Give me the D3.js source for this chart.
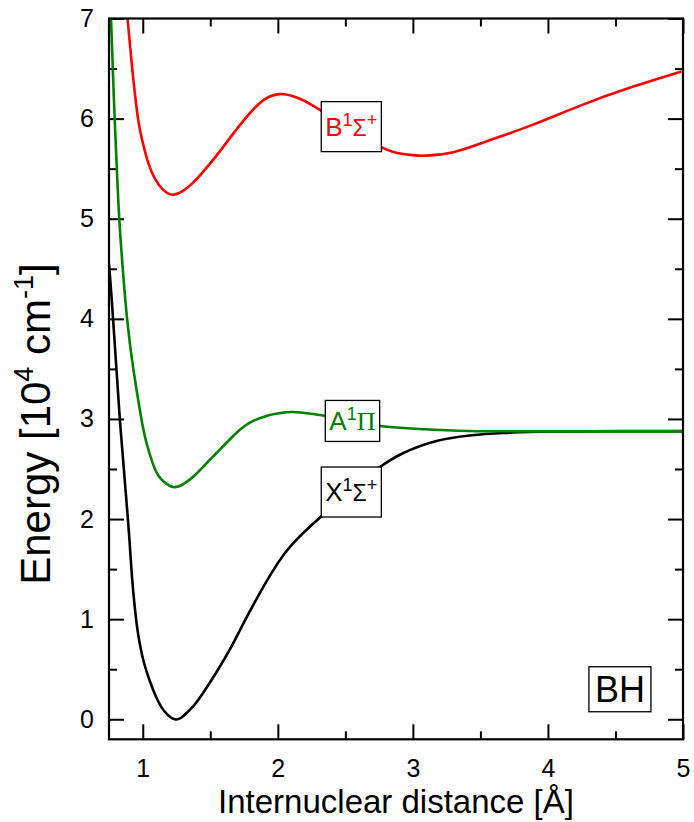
<!DOCTYPE html>
<html>
<head>
<meta charset="utf-8">
<script src="https://cdn.jsdelivr.net/npm/d3@7"></script>
<style>
  body { margin: 0; background: #fff; }
  text { font-family: "Liberation Sans", Arial, sans-serif; }
</style>
</head>
<body>
<svg width="694" height="822"></svg>
<script>
// potential curves of BH, energy in 10^4 cm-1 vs r in Angstrom
var xStateR = [0.75, 0.78, 0.83, 0.89, 0.916, 0.935, 0.955, 0.98, 1.01, 1.05, 1.10, 1.16, 1.237, 1.30, 1.38, 1.46, 1.55, 1.65, 1.75, 1.85, 1.953, 2.05, 2.15, 2.30, 2.45, 2.6, 2.756, 2.93, 3.175, 3.42, 3.67, 4.04, 4.5, 5.0];
var xStateE = [4.55, 4.0, 3.0, 2.0, 1.5, 1.2, 0.95, 0.74, 0.56, 0.39, 0.22, 0.08, 0.0, 0.033, 0.14, 0.29, 0.48, 0.71, 0.97, 1.22, 1.46, 1.655, 1.81, 2.0, 2.18, 2.36, 2.52, 2.66, 2.78, 2.835, 2.86, 2.875, 2.878, 2.878];

var aStateR = [0.765, 0.778, 0.792, 0.808, 0.826, 0.852, 0.884, 0.93, 0.99, 1.03, 1.09, 1.15, 1.225, 1.30, 1.38, 1.46, 1.546, 1.67, 1.79, 1.916, 2.0, 2.11, 2.26, 2.40, 2.55, 2.756, 3.05, 3.42, 3.92, 5.0];
var aStateE = [7.0, 6.5, 6.0, 5.5, 5.0, 4.5, 4.0, 3.5, 3.0, 2.75, 2.5, 2.38, 2.32, 2.35, 2.43, 2.54, 2.66, 2.83, 2.96, 3.03, 3.055, 3.07, 3.05, 3.02, 2.98, 2.93, 2.90, 2.88, 2.876, 2.876];

var bStateR = [0.887, 0.922, 0.965, 1.0, 1.04, 1.09, 1.15, 1.22, 1.30, 1.38, 1.46, 1.546, 1.67, 1.79, 1.90, 2.015, 2.14, 2.26, 2.40, 2.55, 2.70, 2.85, 3.0, 3.10, 3.30, 3.55, 3.87, 4.24, 4.61, 4.99];
var bStateE = [7.0, 6.5, 6.0, 5.76, 5.56, 5.40, 5.29, 5.24, 5.28, 5.37, 5.49, 5.63, 5.85, 6.05, 6.19, 6.245, 6.21, 6.13, 6.01, 5.88, 5.76, 5.67, 5.635, 5.63, 5.665, 5.775, 5.93, 6.13, 6.31, 6.47];

var xTicks = [1, 2, 3, 4, 5];
var xMinor = [1.5, 2.5, 3.5, 4.5];
var yTicks = [0, 1, 2, 3, 4, 5, 6, 7];
var yMinor = [0.5, 1.5, 2.5, 3.5, 4.5, 5.5, 6.5];

// state labels: letter, term symbol, superscript, position (r, E)
var labelNames = ['B', 'A', 'X'];
var labelSym = ['\u03A3', '\u03A0', '\u03A3'];
var labelSup2 = ['+', '', '+'];
var labelR = [2.544, 2.552, 2.544];
var labelE = [5.92, 2.98, 2.27];
var labelColors = ['#ff0000', '#008000', '#000000'];

var svg = d3.select('svg');

var x = d3.scaleLinear().domain([0.75, 5]).range([109, 683]);
var y = d3.scaleLinear().domain([-0.2, 7]).range([739.3, 18.5]);

svg.append('defs').append('clipPath').attr('id', 'plotClip')
    .append('rect')
    .attr('x', x(0.75)).attr('y', y(7))
    .attr('width', x(5) - x(0.75)).attr('height', y(-0.2) - y(7));

// axes, ticks pointing in
function styleAxis(g) {
    g.select('.domain').remove();
    g.selectAll('line').attr('stroke', '#000').attr('stroke-width', 2);
    g.selectAll('text').attr('font-size', 25).attr('fill', '#000')
        .style('font-family', '"Liberation Sans", Arial, sans-serif');
}

svg.append('g').attr('transform', 'translate(0,' + y(-0.2) + ')')
    .call(d3.axisBottom(x).tickValues(xTicks).tickSizeInner(-15).tickSizeOuter(0).tickPadding(20).tickFormat(d3.format('d')))
    .call(styleAxis);
svg.append('g').attr('transform', 'translate(0,' + y(-0.2) + ')')
    .call(d3.axisBottom(x).tickValues(xMinor).tickSizeInner(-8).tickSizeOuter(0).tickFormat(''))
    .call(styleAxis);
svg.append('g').attr('transform', 'translate(0,' + y(7) + ')')
    .call(d3.axisTop(x).tickValues(xTicks).tickSizeInner(-15).tickSizeOuter(0).tickFormat(''))
    .call(styleAxis);
svg.append('g').attr('transform', 'translate(0,' + y(7) + ')')
    .call(d3.axisTop(x).tickValues(xMinor).tickSizeInner(-8).tickSizeOuter(0).tickFormat(''))
    .call(styleAxis);

svg.append('g').attr('transform', 'translate(' + x(0.75) + ',0)')
    .call(d3.axisLeft(y).tickValues(yTicks).tickSizeInner(-15).tickSizeOuter(0).tickPadding(15).tickFormat(d3.format('d')))
    .call(styleAxis);
svg.append('g').attr('transform', 'translate(' + x(0.75) + ',0)')
    .call(d3.axisLeft(y).tickValues(yMinor).tickSizeInner(-8).tickSizeOuter(0).tickFormat(''))
    .call(styleAxis);
svg.append('g').attr('transform', 'translate(' + x(5) + ',0)')
    .call(d3.axisRight(y).tickValues(yTicks).tickSizeInner(-15).tickSizeOuter(0).tickFormat(''))
    .call(styleAxis);
svg.append('g').attr('transform', 'translate(' + x(5) + ',0)')
    .call(d3.axisRight(y).tickValues(yMinor).tickSizeInner(-8).tickSizeOuter(0).tickFormat(''))
    .call(styleAxis);

// curves
var line = d3.line()
    .x(function(d){ return x(d[0]); })
    .y(function(d){ return y(d[1]); })
    .curve(d3.curveNatural);

var curves = [
    { r: xStateR, e: xStateE, color: '#000000' },
    { r: aStateR, e: aStateE, color: '#008000' },
    { r: bStateR, e: bStateE, color: '#ff0000' }
];

svg.append('g').attr('clip-path', 'url(#plotClip)')
    .selectAll('path')
    .data(curves)
    .enter()
    .append('path')
    .attr('d', function(c){ return line(d3.zip(c.r, c.e)); })
    .attr('fill', 'none')
    .attr('stroke', function(c){ return c.color; })
    .attr('stroke-width', 2.6);

// frame
svg.append('rect')
    .attr('x', x(0.75)).attr('y', y(7))
    .attr('width', x(5) - x(0.75)).attr('height', y(-0.2) - y(7))
    .attr('fill', 'none').attr('stroke', '#000').attr('stroke-width', 2.2);

// state labels in boxes
labelNames.forEach(function(name, i){
    var g = svg.append('g');
    var box = g.append('rect');
    var t = g.append('text')
        .attr('x', x(labelR[i])).attr('y', y(labelE[i]) + 9)
        .attr('text-anchor', 'middle')
        .attr('fill', labelColors[i]);
    t.append('tspan').attr('font-size', 26).text(name);
    t.append('tspan').attr('font-size', 18).attr('dy', -10).text('1');
    var sym = t.append('tspan').attr('dy', 10).text(labelSym[i]);
    if (labelSym[i] === '\u03A0') {
        sym.attr('font-size', 26).style('font-family', '"Liberation Serif", "Times New Roman", serif');
    } else {
        sym.attr('font-size', 23);
    }
    if (labelSup2[i]) {
        t.append('tspan').attr('font-size', 18).attr('dy', -10).text(labelSup2[i]);
    }
    var bb = t.node().getBBox();
    var h = (name === 'A') ? 41 : 50;
    box.attr('x', bb.x - 4).attr('y', y(labelE[i]) - h / 2)
        .attr('width', bb.width + 8).attr('height', h)
        .attr('fill', '#fff').attr('stroke', '#000').attr('stroke-width', 1.3);
});

// molecule label
var bh = svg.append('g');
var bhBox = bh.append('rect');
var bhText = bh.append('text')
    .attr('x', x(4.533)).attr('y', y(0.30) + 13)
    .attr('text-anchor', 'middle')
    .attr('font-size', 36)
    .text('BH');
var bhb = bhText.node().getBBox();
bhBox.attr('x', bhb.x - 6).attr('y', y(0.30) - 22.5)
    .attr('width', bhb.width + 12).attr('height', 45)
    .attr('fill', '#fff').attr('stroke', '#000').attr('stroke-width', 1.3);

// axis titles
svg.append('text')
    .attr('x', (x(0.75) + x(5)) / 2).attr('y', 813)
    .attr('text-anchor', 'middle')
    .attr('font-size', 33)
    .text('Internuclear distance [\u00C5]');

var yt = svg.append('text')
    .attr('transform', 'translate(50,424) rotate(-90)')
    .attr('text-anchor', 'middle')
    .attr('font-size', 42);
yt.append('tspan').text('Energy [10');
yt.append('tspan').attr('font-size', 27).attr('dy', -17).text('4');
yt.append('tspan').attr('dy', 17).text(' cm');
yt.append('tspan').attr('font-size', 27).attr('dy', -17).text('-1');
yt.append('tspan').attr('dy', 17).text(']');
</script>
</body>
</html>
